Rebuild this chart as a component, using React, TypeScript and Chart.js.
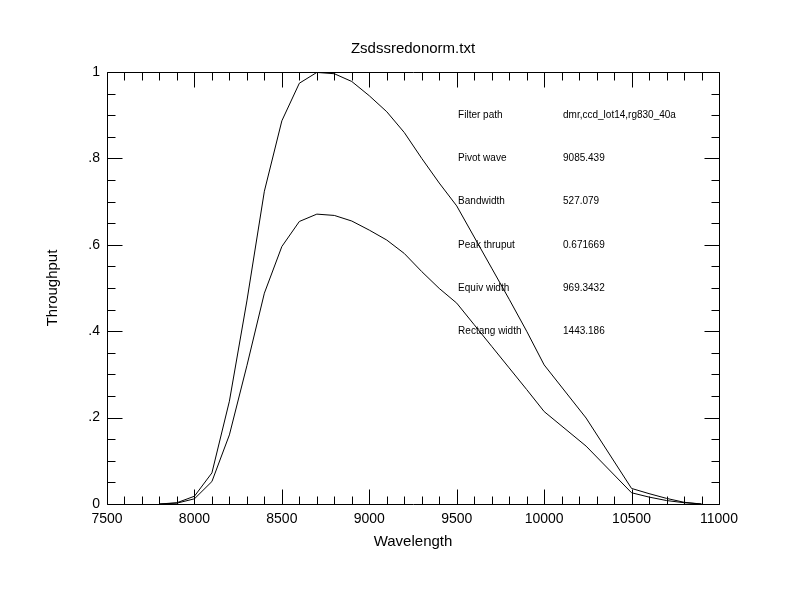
import { useEffect, useRef } from "react"
import { Chart, registerables } from "chart.js"

Chart.register(...registerables)

const FONT = "'Liberation Sans', Arial, Helvetica, sans-serif"

// wavelength grid (Angstrom)
const wavelengths = [
  7800, 7900, 8000, 8100, 8200, 8300, 8400, 8500, 8600, 8700, 8800, 8900, 9000,
  9100, 9200, 9300, 9400, 9500, 9600, 9700, 9800, 9900, 10000, 10240, 10500,
  10600, 10700, 10800, 10900,
]

// normalized curve (peak = 1)
const normalized = [
  0.0, 0.003, 0.018, 0.072, 0.238, 0.47, 0.724, 0.887, 0.974, 0.999, 0.996, 0.978,
  0.945, 0.908, 0.86, 0.8, 0.743, 0.69, 0.618, 0.546, 0.474, 0.4, 0.322, 0.199,
  0.036, 0.024, 0.013, 0.004, 0.0,
]

// raw throughput curve
const throughput = [
  0.0, 0.002, 0.012, 0.052, 0.16, 0.32, 0.488, 0.596, 0.654, 0.671, 0.668, 0.655,
  0.634, 0.611, 0.58, 0.538, 0.499, 0.465, 0.415, 0.365, 0.315, 0.265, 0.214,
  0.134, 0.026, 0.016, 0.008, 0.003, 0.0,
]

const yTickLabels = ["0", ".2", ".4", ".6", ".8", "1"]

const statNames = ["Filter path", "Pivot wave", "Bandwidth", "Peak thruput", "Equiv width", "Rectang width"]
const statValues = ["dmr,ccd_lot14,rg830_40a", "9085.439", "527.079", "0.671669", "969.3432", "1443.186"]
const statRows = [0.9, 0.8, 0.7, 0.6, 0.5, 0.4]

// box, inward ticks and the stats text block
const framePlugin = {
  id: "frame",
  afterDraw(chart: Chart) {
    const { ctx, chartArea: a } = chart
    const xs = chart.scales.x
    const ys = chart.scales.y
    const L = Math.round(a.left) + 0.5
    const R = Math.round(a.right) + 0.5
    const T = Math.round(a.top) + 0.5
    const B = Math.round(a.bottom) + 0.5
    ctx.save()
    ctx.strokeStyle = "#000"
    ctx.lineWidth = 1
    ctx.beginPath()
    ctx.rect(L, T, R - L, B - T)
    for (let w = 7500; w <= 11000; w += 100) {
      const px = Math.round(xs.getPixelForValue(w)) + 0.5
      const len = w % 500 === 0 ? 15 : 8
      ctx.moveTo(px, B)
      ctx.lineTo(px, B - len)
      ctx.moveTo(px, T)
      ctx.lineTo(px, T + len)
    }
    for (let i = 0; i <= 20; i++) {
      const py = Math.round(ys.getPixelForValue(i * 0.05)) + 0.5
      const len = i % 4 === 0 ? 15 : 8
      ctx.moveTo(L, py)
      ctx.lineTo(L + len, py)
      ctx.moveTo(R, py)
      ctx.lineTo(R - len, py)
    }
    ctx.stroke()

    ctx.fillStyle = "#000"
    ctx.font = `10px ${FONT}`
    ctx.textAlign = "left"
    ctx.textBaseline = "middle"
    statNames.forEach((name, i) => {
      const py = ys.getPixelForValue(statRows[i])
      ctx.fillText(name, xs.getPixelForValue(9508), py)
      ctx.fillText(statValues[i], xs.getPixelForValue(10108), py)
    })
    ctx.restore()
  },
}

export default function App() {
  const canvasRef = useRef<HTMLCanvasElement>(null)
  const chartRef = useRef<Chart | null>(null)

  useEffect(() => {
    document.body.style.margin = "0"
    if (!canvasRef.current) return
    if (chartRef.current) chartRef.current.destroy()

    Chart.defaults.font.family = FONT
    Chart.defaults.color = "#000"

    chartRef.current = new Chart(canvasRef.current, {
      type: "line",
      data: {
        datasets: [
          {
            label: "Normalized",
            data: wavelengths.map((w, i) => ({ x: w, y: normalized[i] })),
            borderColor: "#000",
            borderWidth: 1,
            pointRadius: 0,
            tension: 0,
          },
          {
            label: "Throughput",
            data: wavelengths.map((w, i) => ({ x: w, y: throughput[i] })),
            borderColor: "#000",
            borderWidth: 1,
            pointRadius: 0,
            tension: 0,
          },
        ],
      },
      options: {
        animation: false,
        responsive: false,
        devicePixelRatio: 1,
        layout: { padding: { top: 0, right: 73, left: 0, bottom: 0 } },
        plugins: {
          legend: { display: false },
          tooltip: { enabled: false },
          title: {
            display: true,
            fullSize: false,
            text: "Zsdssredonorm.txt",
            color: "#000",
            font: { size: 15, weight: "normal", family: FONT },
            padding: { top: 40, bottom: 14 },
          },
        },
        scales: {
          x: {
            type: "linear",
            min: 7500,
            max: 11000,
            grid: { display: false, drawTicks: false },
            border: { display: false },
            ticks: {
              stepSize: 500,
              padding: 7,
              maxRotation: 0,
              font: { size: 14 },
              callback: (value) => String(value),
            },
            title: {
              display: true,
              text: "Wavelength",
              font: { size: 15 },
              padding: { top: 0, bottom: 61 },
            },
            afterFit: (scale) => {
              scale.height = 108
            },
          },
          y: {
            type: "linear",
            min: 0,
            max: 1,
            grid: { display: false, drawTicks: false },
            border: { display: false },
            ticks: {
              stepSize: 0.2,
              padding: 7,
              font: { size: 14 },
              callback: (_value, index) => yTickLabels[index],
            },
            title: {
              display: true,
              text: "Throughput",
              font: { size: 15 },
              padding: { top: 44, bottom: 0 },
            },
            afterFit: (scale) => {
              scale.width = 107
            },
          },
        },
      },
      plugins: [framePlugin],
    })

    return () => {
      if (chartRef.current) {
        chartRef.current.destroy()
        chartRef.current = null
      }
    }
  }, [])

  return (
    <div style={{ width: 792, height: 612, background: "#fff" }}>
      <canvas ref={canvasRef} width={792} height={612} style={{ display: "block" }}></canvas>
    </div>
  )
}
